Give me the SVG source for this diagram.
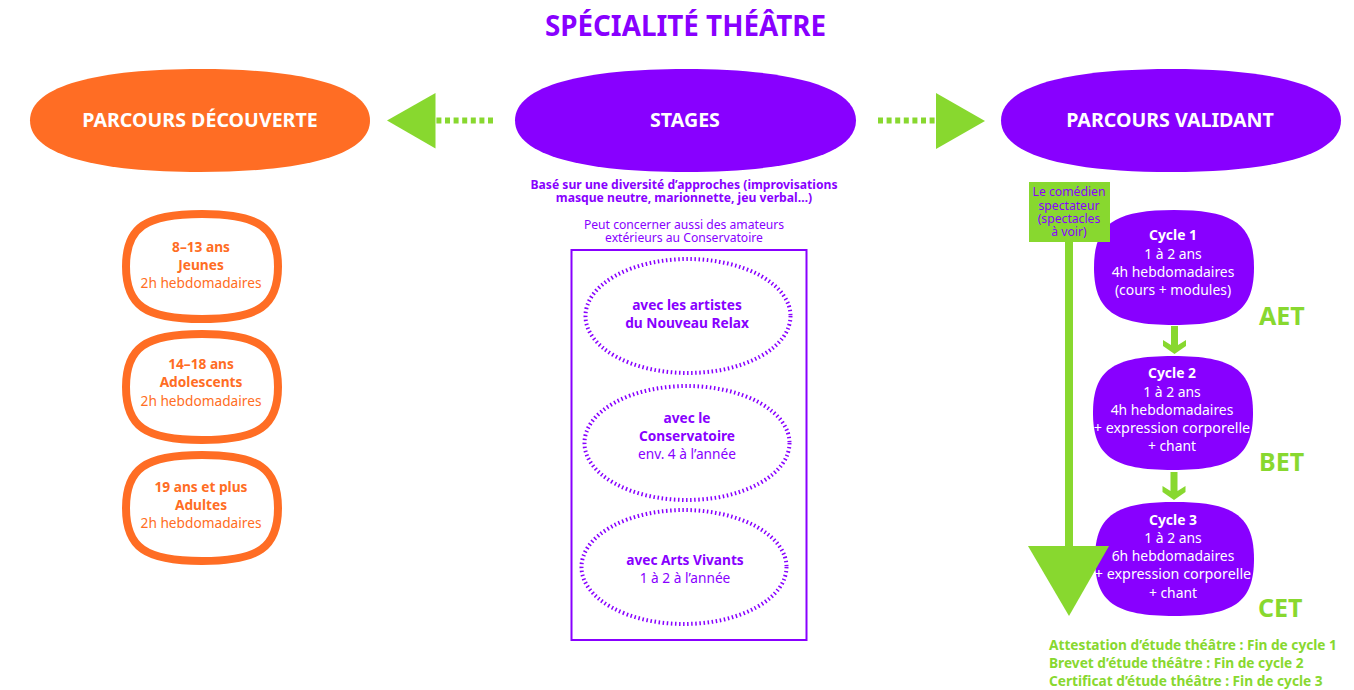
<svg xmlns="http://www.w3.org/2000/svg" width="1354" height="690" viewBox="0 0 1354 690">
<style>
text{font-family:"Noto Sans","Liberation Sans",sans-serif;text-anchor:middle}
.b{font-weight:700}
.h{font-size:19.600px;font-weight:700;fill:#fff}
.w{font-size:13.900px;fill:#fff}
.x{font-size:14.300px;fill:#fff}
.p{font-size:13.700px;fill:#8800ff}
.n{font-size:12.150px;fill:#8800ff}
.o{font-size:13.700px;fill:#ff6d24}
.g{font-size:13.700px;font-weight:700;fill:#88d82f;text-anchor:start}
.c{font-size:25px;font-weight:700;fill:#88d82f;text-anchor:start}
.v{fill:#8800ff}
.sq{fill:#fff;stroke:#ff6d24;stroke-width:8}
.dot{fill:none;stroke:#8800ff;stroke-width:4;stroke-dasharray:1.500 2.600}
.gf{fill:#88d82f}
.gd{fill:none;stroke:#88d82f;stroke-width:6;stroke-dasharray:5 3.600}
</style>
<rect width="1354" height="690" fill="#fff"/>
<text x="685.500" y="36" class="b" style="font-size:27.800px;fill:#8800ff">SPÉCIALITÉ THÉÂTRE</text>
<g id="parcours-decouverte"><path fill="#ff6d24" d="M200 69C300 69 370 85 370 120.500C370 156 300 172 200 172C100 172 30 156 30 120.500C30 85 100 69 200 69Z"/><text x="200" y="127" class="h">PARCOURS DÉCOUVERTE</text></g>
<g id="stages"><path class="v" d="M685.500 69C785.500 69 856 85 856 120.500C856 156 785.500 172 685.500 172C585.500 172 515 156 515 120.500C515 85 585.500 69 685.500 69Z"/><text x="685" y="127" class="h">STAGES</text></g>
<g id="parcours-validant"><path class="v" d="M1171 69C1271 69 1341 85 1341 120.500C1341 156 1271 172 1171 172C1071 172 1001 156 1001 120.500C1001 85 1071 69 1171 69Z"/><text x="1170" y="127" class="h">PARCOURS VALIDANT</text></g>
<g id="stages-notes">
<text class="n b"><tspan x="684" y="189">Basé sur une diversité d’approches (improvisations</tspan><tspan x="684" y="202">masque neutre, marionnette, jeu verbal…)</tspan></text>
<text class="n"><tspan x="684" y="229">Peut concerner aussi des amateurs</tspan><tspan x="684" y="242">extérieurs au Conservatoire</tspan></text>
</g>
<g id="jeunes"><path class="sq" d="M202 214C259 214 278 227.500 278 266.500C278 305.500 259 319 202 319C145 319 126 305.500 126 266.500C126 227.500 145 214 202 214Z"/>
<text x="201" y="252" class="o b">8–13 ans</text><text x="201" y="270" class="o b">Jeunes</text><text x="201" y="288" class="o">2h hebdomadaires</text></g>
<g id="adolescents"><path class="sq" d="M202 334C259 334 278 347.500 278 387C278 426.500 259 440 202 440C145 440 126 426.500 126 387C126 347.500 145 334 202 334Z"/>
<text x="201" y="369" class="o b">14–18 ans</text><text x="201" y="387" class="o b">Adolescents</text><text x="201" y="406" class="o">2h hebdomadaires</text></g>
<g id="adultes"><path class="sq" d="M202 455C259 455 278 468.500 278 508C278 547.500 259 561 202 561C145 561 126 547.500 126 508C126 468.500 145 455 202 455Z"/>
<text x="201" y="492" class="o b">19 ans et plus</text><text x="201" y="510" class="o b">Adultes</text><text x="201" y="528" class="o">2h hebdomadaires</text></g>
<rect id="stages-cadre" x="571.500" y="250" width="235" height="390" fill="none" stroke="#8800ff" stroke-width="2"/>
<g id="artistes"><ellipse cx="688" cy="316" rx="102.500" ry="57" class="dot"/><text x="687" y="310" class="p b">avec les artistes</text><text x="687" y="328" class="p b">du Nouveau Relax</text></g>
<g id="conservatoire"><ellipse cx="687" cy="443" rx="102.500" ry="57" class="dot"/><text x="687" y="423" class="p b">avec le</text><text x="687" y="441" class="p b">Conservatoire</text><text x="687" y="459" class="p">env. 4 à l’année</text></g>
<g id="arts-vivants"><ellipse cx="684" cy="567" rx="102.500" ry="57" class="dot"/><text x="685" y="565" class="p b">avec Arts Vivants</text><text x="685" y="583" class="p">1 à 2 à l’année</text></g>
<g id="cycle1"><path class="v" d="M1174 210C1234 210 1254 224.500 1254 267.500C1254 310.500 1234 325 1174 325C1114 325 1094 310.500 1094 267.500C1094 224.500 1114 210 1174 210Z"/>
<text x="1173" y="240" class="w b">Cycle 1</text><text x="1173" y="259" class="w">1 à 2 ans</text><text x="1173" y="277" class="w">4h hebdomadaires</text><text x="1173" y="295" class="w">(cours + modules)</text></g>
<g id="cycle2"><path class="v" d="M1173 356C1233 356 1253 370 1253 413C1253 456 1233 470 1173 470C1113 470 1093 456 1093 413C1093 370 1113 356 1173 356Z"/>
<text x="1172" y="378" class="w b">Cycle 2</text><text x="1172" y="397" class="w">1 à 2 ans</text><text x="1172" y="415" class="w">4h hebdomadaires</text><text x="1172" y="433" class="x">+ expression corporelle</text><text x="1172" y="451" class="w">+ chant</text></g>
<g id="cycle3"><path class="v" d="M1174.500 502C1234 502 1254 516 1254 559C1254 602 1234 616 1174.500 616C1115 616 1095 602 1095 559C1095 516 1115 502 1174.500 502Z"/>
<text x="1173" y="525" class="w b">Cycle 3</text><text x="1173" y="543" class="w">1 à 2 ans</text><text x="1173" y="561" class="w">6h hebdomadaires</text><text x="1173" y="579" class="x">+ expression corporelle</text><text x="1173" y="598" class="w">+ chant</text></g>
<g id="connectors">
<path class="gd" d="M493 120.500H435"/><polygon class="gf" points="387,120.500 435.500,93 435.500,148.500"/>
<path class="gd" d="M878 120.500H936"/><polygon class="gf" points="985,121 936,93 936,149"/>
<rect class="gf" x="1065" y="240" width="8" height="308"/><polygon class="gf" points="1028,546 1109,546 1069,616"/>
<polygon class="gf" points="1171,326 1178,326 1178,345 1186,340 1186,346 1174.500,354 1163,346 1163,340 1171,345"/>
<polygon class="gf" points="1170.500,472 1177.500,472 1177.500,491 1185.500,486 1185.500,492 1174,500 1162.500,492 1162.500,486 1170.500,491"/>
</g>
<g id="comedien"><rect class="gf" x="1029" y="182" width="81" height="60"/>
<text style="font-size:12.200px;fill:#8800ff"><tspan x="1069" y="196">Le comédien</tspan><tspan x="1069" y="210">spectateur</tspan><tspan x="1069" y="223">(spectacles</tspan><tspan x="1069" y="236">à voir)</tspan></text></g>
<g id="niveaux"><text x="1259" y="325" class="c">AET</text><text x="1259" y="471" class="c">BET</text><text x="1258" y="617" class="c">CET</text></g>
<g id="diplomes"><text x="1049" y="650" class="g">Attestation d’étude théâtre : Fin de cycle 1</text><text x="1049" y="668" class="g">Brevet d’étude théâtre : Fin de cycle 2</text><text x="1049" y="686" class="g">Certificat d’étude théâtre : Fin de cycle 3</text></g>
</svg>
